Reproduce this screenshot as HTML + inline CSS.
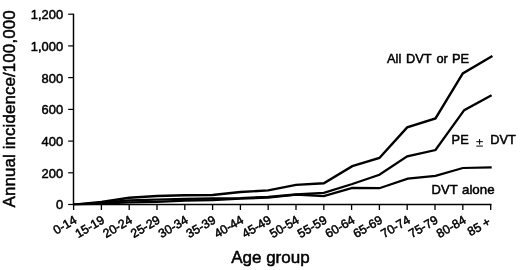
<!DOCTYPE html><html><head><meta charset="utf-8"><style>html,body{margin:0;padding:0;background:#fff}body{width:520px;height:270px;position:relative;overflow:hidden;font-family:"Liberation Sans",sans-serif}</style></head><body>
<svg width="520" height="270" viewBox="0 0 520 270" style="position:absolute;left:0;top:0;filter:grayscale(1)">
<defs><clipPath id="cp"><rect x="73.5" y="0" width="440" height="205.3"/></clipPath></defs>
<g font-family="Liberation Sans, sans-serif" fill="#000">
<path d="M73.5,13.8 V204.55 H491.4" fill="none" stroke="#000" stroke-width="1.45"/>
<line x1="68.2" x2="73.6" y1="14.2" y2="14.2" stroke="#000" stroke-width="1.2"/>
<text x="63.1" y="19.1" font-size="12.9" text-anchor="end" stroke="#000" stroke-width="0.5">1,200</text>
<line x1="68.2" x2="73.6" y1="45.9" y2="45.9" stroke="#000" stroke-width="1.2"/>
<text x="63.1" y="50.8" font-size="12.9" text-anchor="end" stroke="#000" stroke-width="0.5">1,000</text>
<line x1="68.2" x2="73.6" y1="77.6" y2="77.6" stroke="#000" stroke-width="1.2"/>
<text x="63.1" y="82.5" font-size="12.9" text-anchor="end" stroke="#000" stroke-width="0.5">800</text>
<line x1="68.2" x2="73.6" y1="109.4" y2="109.4" stroke="#000" stroke-width="1.2"/>
<text x="63.1" y="114.3" font-size="12.9" text-anchor="end" stroke="#000" stroke-width="0.5">600</text>
<line x1="68.2" x2="73.6" y1="141.1" y2="141.1" stroke="#000" stroke-width="1.2"/>
<text x="63.1" y="146.0" font-size="12.9" text-anchor="end" stroke="#000" stroke-width="0.5">400</text>
<line x1="68.2" x2="73.6" y1="172.8" y2="172.8" stroke="#000" stroke-width="1.2"/>
<text x="63.1" y="177.7" font-size="12.9" text-anchor="end" stroke="#000" stroke-width="0.5">200</text>
<line x1="68.2" x2="73.6" y1="204.5" y2="204.5" stroke="#000" stroke-width="1.2"/>
<text x="63.1" y="209.4" font-size="12.9" text-anchor="end" stroke="#000" stroke-width="0.5">0</text>
<line x1="73.6" x2="73.6" y1="204" y2="210" stroke="#000" stroke-width="1.3"/>
<text font-size="12.3" text-anchor="end" stroke="#000" stroke-width="0.5" transform="translate(77.6,222.4) rotate(-30)">0-14</text>
<line x1="101.4" x2="101.4" y1="204" y2="210" stroke="#000" stroke-width="1.3"/>
<text font-size="12.3" text-anchor="end" stroke="#000" stroke-width="0.5" transform="translate(105.4,222.4) rotate(-30)">15-19</text>
<line x1="129.2" x2="129.2" y1="204" y2="210" stroke="#000" stroke-width="1.3"/>
<text font-size="12.3" text-anchor="end" stroke="#000" stroke-width="0.5" transform="translate(133.2,222.4) rotate(-30)">20-24</text>
<line x1="157.0" x2="157.0" y1="204" y2="210" stroke="#000" stroke-width="1.3"/>
<text font-size="12.3" text-anchor="end" stroke="#000" stroke-width="0.5" transform="translate(161.0,222.4) rotate(-30)">25-29</text>
<line x1="184.8" x2="184.8" y1="204" y2="210" stroke="#000" stroke-width="1.3"/>
<text font-size="12.3" text-anchor="end" stroke="#000" stroke-width="0.5" transform="translate(188.8,222.4) rotate(-30)">30-34</text>
<line x1="212.6" x2="212.6" y1="204" y2="210" stroke="#000" stroke-width="1.3"/>
<text font-size="12.3" text-anchor="end" stroke="#000" stroke-width="0.5" transform="translate(216.6,222.4) rotate(-30)">35-39</text>
<line x1="240.4" x2="240.4" y1="204" y2="210" stroke="#000" stroke-width="1.3"/>
<text font-size="12.3" text-anchor="end" stroke="#000" stroke-width="0.5" transform="translate(244.4,222.4) rotate(-30)">40-44</text>
<line x1="268.2" x2="268.2" y1="204" y2="210" stroke="#000" stroke-width="1.3"/>
<text font-size="12.3" text-anchor="end" stroke="#000" stroke-width="0.5" transform="translate(272.2,222.4) rotate(-30)">45-49</text>
<line x1="296.0" x2="296.0" y1="204" y2="210" stroke="#000" stroke-width="1.3"/>
<text font-size="12.3" text-anchor="end" stroke="#000" stroke-width="0.5" transform="translate(300.0,222.4) rotate(-30)">50-54</text>
<line x1="323.8" x2="323.8" y1="204" y2="210" stroke="#000" stroke-width="1.3"/>
<text font-size="12.3" text-anchor="end" stroke="#000" stroke-width="0.5" transform="translate(327.8,222.4) rotate(-30)">55-59</text>
<line x1="351.6" x2="351.6" y1="204" y2="210" stroke="#000" stroke-width="1.3"/>
<text font-size="12.3" text-anchor="end" stroke="#000" stroke-width="0.5" transform="translate(355.6,222.4) rotate(-30)">60-64</text>
<line x1="379.4" x2="379.4" y1="204" y2="210" stroke="#000" stroke-width="1.3"/>
<text font-size="12.3" text-anchor="end" stroke="#000" stroke-width="0.5" transform="translate(383.4,222.4) rotate(-30)">65-69</text>
<line x1="407.2" x2="407.2" y1="204" y2="210" stroke="#000" stroke-width="1.3"/>
<text font-size="12.3" text-anchor="end" stroke="#000" stroke-width="0.5" transform="translate(411.2,222.4) rotate(-30)">70-74</text>
<line x1="435.0" x2="435.0" y1="204" y2="210" stroke="#000" stroke-width="1.3"/>
<text font-size="12.3" text-anchor="end" stroke="#000" stroke-width="0.5" transform="translate(439.0,222.4) rotate(-30)">75-79</text>
<line x1="462.8" x2="462.8" y1="204" y2="210" stroke="#000" stroke-width="1.3"/>
<text font-size="12.3" text-anchor="end" stroke="#000" stroke-width="0.5" transform="translate(466.8,222.4) rotate(-30)">80-84</text>
<line x1="490.7" x2="490.7" y1="204" y2="210" stroke="#000" stroke-width="1.3"/>
<text font-size="12.3" text-anchor="end" stroke="#000" stroke-width="0.5" transform="translate(491.5,224.2) rotate(-30)">85 +</text>
<polyline clip-path="url(#cp)" points="73.6,204.6 101.4,202.0 129.2,197.7 157.0,196.0 184.8,195.3 212.6,195.0 240.4,192.0 268.2,190.4 296.0,184.9 323.8,183.2 352.3,166.2 379.4,158.0 407.2,127.4 435.5,118.4 462.8,73.4 492.4,56.0" fill="none" stroke="#000" stroke-width="2.4" stroke-linejoin="miter"/>
<polyline clip-path="url(#cp)" points="73.6,204.6 101.4,203.0 129.2,200.3 157.0,199.6 184.8,198.9 212.6,198.5 240.4,198.1 268.2,196.8 296.0,194.5 323.8,192.8 352.3,184.0 379.4,174.8 407.2,156.4 435.5,150.0 464.2,110.2 491.6,95.2" fill="none" stroke="#000" stroke-width="2.3" stroke-linejoin="miter"/>
<polyline clip-path="url(#cp)" points="73.6,204.6 101.4,203.6 129.2,202.4 157.0,201.9 184.8,200.6 212.6,200.2 240.4,198.6 268.2,197.7 296.0,194.7 323.8,196.2 352.3,187.9 379.4,188.2 407.8,178.7 435.5,175.8 462.8,168.0 491.7,167.3" fill="none" stroke="#000" stroke-width="2.25" stroke-linejoin="miter"/>
<g font-size="12.8" stroke="#000" stroke-width="0.5"><text x="387" y="63.2">All</text><text x="406.1" y="63.2">DVT</text><text x="436.4" y="63.2">or</text><text x="452" y="63.2">PE</text></g>
<g transform="translate(0,144) scale(1,0.93) translate(0,-144)"><text font-size="12.8" x="451.6" y="144" stroke="#000" stroke-width="0.5">PE</text><text font-size="12.8" x="490.2" y="144" stroke="#000" stroke-width="0.5">DVT</text></g>
<path d="M476.3,141.7 H482.9 M479.6,139 V144.5 M476.3,146.1 H482.9" stroke="#000" stroke-width="1" fill="none"/>
<text font-size="13" x="431.6" y="194.3" stroke="#000" stroke-width="0.5">DVT</text><text font-size="13.3" x="462.0" y="194.3" stroke="#000" stroke-width="0.5">alone</text>
<text font-size="17" x="231.2" y="263.1" stroke="#000" stroke-width="0.5">Age group</text>
<text font-size="17" text-anchor="middle" textLength="197.2" lengthAdjust="spacing" stroke="#000" stroke-width="0.5" transform="translate(14.9,108.9) rotate(-90)">Annual incidence/100,000</text>
</g></svg>
</body></html>
